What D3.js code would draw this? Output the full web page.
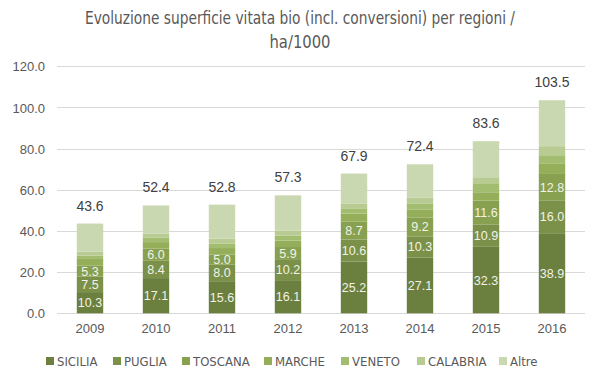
<!DOCTYPE html>
<html>
<head>
<meta charset="utf-8">
<script src="https://cdn.jsdelivr.net/npm/d3@7"></script>
<style>
  body { margin: 0; background: #fff; }
  svg { display: block; }
  .title { font-family: "Liberation Sans Narrow", "Arial Narrow", "DejaVu Sans Condensed", sans-serif; font-size: 17px; fill: #595959; }
  .tick-label { font-family: "Liberation Sans", Arial, Helvetica, sans-serif; font-size: 13px; fill: #595959; }
  .bar-label { font-family: "Liberation Sans", Arial, Helvetica, sans-serif; font-size: 12.5px; fill: #f2f2e8; }
  .total-label { font-family: "Liberation Sans", Arial, Helvetica, sans-serif; font-size: 14px; fill: #404040; }
  .legend-label { font-family: "Liberation Sans Narrow", "Arial Narrow", "DejaVu Sans Condensed", sans-serif; font-size: 13px; fill: #595959; }
</style>
</head>
<body>
<div id="chart"></div>
<script>
// data
var years = ["2009", "2010", "2011", "2012", "2013", "2014", "2015", "2016"];
var regions = ["SICILIA", "PUGLIA", "TOSCANA", "MARCHE", "VENETO", "CALABRIA", "Altre"];
var sicilia  = [10.3, 17.1, 15.6, 16.1, 25.2, 27.1, 32.3, 38.9];
var puglia   = [7.5, 8.4, 8.0, 10.2, 10.6, 10.3, 10.9, 16.0];
var toscana  = [5.3, 6.0, 5.0, 5.9, 8.7, 9.2, 11.6, 12.8];
var marche   = [3.3, 3.1, 3.1, 3.1, 3.9, 3.9, 4.0, 4.9];
var veneto   = [1.6, 2.1, 2.2, 2.4, 2.6, 2.9, 4.4, 4.2];
var calabria = [2.0, 2.0, 2.4, 2.4, 2.4, 2.9, 2.9, 4.4];
var altre    = [13.6, 13.7, 16.5, 17.2, 14.5, 16.1, 17.5, 22.3];
var totals   = [43.6, 52.4, 52.8, 57.3, 67.9, 72.4, 83.6, 103.5];
var yTicks = [0, 20, 40, 60, 80, 100, 120];
var labelledRegions = ["SICILIA", "PUGLIA", "TOSCANA"];

var colors = ["#6b7f3e", "#7b914a", "#88a150", "#94ae5a", "#a3bd70", "#b7cb92", "#cad8b1"];
var series = [sicilia, puglia, toscana, marche, veneto, calabria, altre];

var W = 600, H = 378;
var margin = { top: 66, right: 15, bottom: 65, left: 57 };

var svg = d3.select("#chart").append("svg")
  .attr("width", W)
  .attr("height", H);

// title
var title = svg.append("text")
  .attr("class", "title")
  .attr("text-anchor", "middle");
title.append("tspan").attr("x", 300).attr("y", 24)
  .attr("textLength", 430).attr("lengthAdjust", "spacingAndGlyphs")
  .text("Evoluzione superficie vitata bio (incl. conversioni)  per regioni /");
title.append("tspan").attr("x", 300).attr("y", 48)
  .attr("textLength", 61).attr("lengthAdjust", "spacingAndGlyphs")
  .text("ha/1000");

var x = d3.scaleBand()
  .domain(years)
  .range([margin.left, W - margin.right])
  .paddingInner(0.6)
  .paddingOuter(0.3);

var y = d3.scaleLinear()
  .domain([0, 120])
  .range([H - margin.bottom + 0.3, margin.top + 0.3]);

// gridlines
svg.append("g")
  .selectAll("line")
  .data(yTicks)
  .enter().append("line")
  .attr("x1", margin.left)
  .attr("x2", W - margin.right)
  .attr("y1", function(d) { return Math.round(y(d)) + 0.5; })
  .attr("y2", function(d) { return Math.round(y(d)) + 0.5; })
  .attr("stroke", "#d9d9d9")
  .attr("stroke-width", 1);

// y axis labels
var yAxis = svg.append("g")
  .attr("transform", "translate(" + (margin.left - 12) + ",0)")
  .call(d3.axisLeft(y).tickValues(yTicks).tickSize(0).tickFormat(d3.format(".1f")));
yAxis.attr("font-family", null).attr("font-size", null);
yAxis.select(".domain").remove();
yAxis.selectAll("text").attr("class", "tick-label").attr("x", 0).attr("dy", "0.35em");

// x axis labels
var xAxis = svg.append("g")
  .attr("transform", "translate(0," + (H - margin.bottom) + ")")
  .call(d3.axisBottom(x).tickSize(0));
xAxis.attr("font-family", null).attr("font-size", null);
xAxis.select(".domain").remove();
xAxis.selectAll("text").attr("class", "tick-label").attr("dy", "1.3em");

// stack
var table = years.map(function(yr, i) {
  var row = { year: yr };
  regions.forEach(function(r, k) { row[r] = series[k][i]; });
  return row;
});
var stacked = d3.stack().keys(regions)(table);

var layers = svg.append("g").selectAll("g")
  .data(stacked)
  .enter().append("g")
  .attr("fill", function(d, k) { return colors[k]; });

layers.selectAll("rect")
  .data(function(d) { return d; })
  .enter().append("rect")
  .attr("x", function(d) { return x(d.data.year); })
  .attr("width", x.bandwidth())
  .attr("y", function(d) { return y(d[1]); })
  .attr("height", function(d) { return y(d[0]) - y(d[1]); });

// value labels in the lower segments
stacked.filter(function(s) { return labelledRegions.indexOf(s.key) >= 0; }).forEach(function(s) {
  svg.append("g").selectAll("text")
    .data(s)
    .enter().append("text")
    .attr("class", "bar-label")
    .attr("text-anchor", "middle")
    .attr("x", function(d) { return x(d.data.year) + x.bandwidth() / 2; })
    .attr("y", function(d) { return (y(d[0]) + y(d[1])) / 2; })
    .attr("dy", "0.36em")
    .text(function(d) { return d3.format(".1f")(d[1] - d[0]); });
});

// totals
svg.append("g").selectAll("text")
  .data(years)
  .enter().append("text")
  .attr("class", "total-label")
  .attr("text-anchor", "middle")
  .attr("x", function(d) { return x(d) + x.bandwidth() / 2; })
  .attr("y", function(d, i) { return y(totals[i]) - 13; })
  .text(function(d, i) { return d3.format(".1f")(totals[i]); });

// legend
var legendX = [46, 113, 182, 264, 341, 417, 499];
var legend = svg.append("g").selectAll("g")
  .data(regions)
  .enter().append("g")
  .attr("transform", function(d, i) { return "translate(" + legendX[i] + ",357)"; });
legend.append("rect")
  .attr("width", 8)
  .attr("height", 8)
  .attr("fill", function(d, i) { return colors[i]; });
legend.append("text")
  .attr("class", "legend-label")
  .attr("x", 11)
  .attr("y", 4)
  .attr("dy", "0.36em")
  .text(function(d) { return d; });
</script>
</body>
</html>
